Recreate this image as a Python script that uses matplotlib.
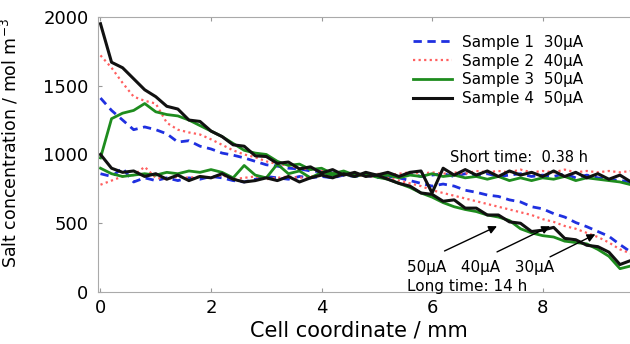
import numpy as np
import matplotlib
matplotlib.use("Agg")
import matplotlib.pyplot as plt

plt.rcParams['font.family'] = ['DejaVu Sans']

# cell coordinate grid (mm)
x = np.round(np.arange(0, 9.61, 0.2), 2)

# long time (14 h) profiles
s1_long = [1410, 1320, 1250, 1180, 1200, 1180, 1150, 1090, 1100, 1060, 1040, 1010, 995, 975, 950, 925,
           915, 900, 895, 880, 875, 865, 860, 855, 850, 845, 840, 830, 810, 790, 770, 785, 770, 740, 725, 705,
           695, 670, 655, 620, 605, 570, 545, 505, 475, 440, 405, 345, 290]
s2_long = [1720, 1630, 1520, 1420, 1390, 1370, 1230, 1180, 1160, 1145, 1110, 1070, 1030, 1000, 980, 950,
           930, 920, 900, 890, 880, 865, 860, 850, 840, 840, 830, 810, 790, 770, 740, 720, 700, 680, 660, 640,
           620, 600, 580, 560, 530, 510, 480, 460, 430, 400, 360, 310, 280]
s3_long = [975, 1260, 1300, 1320, 1370, 1310, 1290, 1280, 1250, 1210, 1170, 1130, 1080, 1030, 1010, 1000,
           950, 920, 930, 890, 900, 860, 880, 850, 860, 835, 820, 790, 760, 720, 690, 650, 620, 600, 585, 560,
           545, 520, 460, 430, 410, 400, 370, 360, 350, 310, 260, 170, 190]
s4_long = [1950, 1670, 1630, 1550, 1470, 1420, 1350, 1330, 1250, 1240, 1170, 1130, 1070, 1060, 990, 985,
           935, 945, 895, 910, 865, 890, 850, 870, 840, 850, 820, 790, 770, 720, 710, 660, 670, 610, 610, 560,
           560, 510, 500, 440, 450, 470, 390, 380, 340, 330, 290, 200, 230]

# short time (0.38 h) profiles
s1_short = [860, 840, 900, 800, 830, 810, 830, 810, 830, 820, 840, 830, 810, 800, 820, 840,
            830, 820, 840, 830, 840, 830, 850, 840, 850, 830, 850, 840, 860, 840, 850, 860, 840, 860, 850, 860,
            840, 850, 860, 840, 850, 840, 860, 830, 850, 830, 820, 810, 800]
s2_short = [780, 810, 840, 850, 910, 830, 820, 840, 830, 840, 830, 850, 820, 830, 840, 820,
            830, 840, 830, 840, 850, 840, 850, 860, 850, 860, 850, 860, 870, 860, 870, 860, 870, 860, 880, 870,
            880, 870, 890, 870, 880, 870, 890, 870, 880, 870, 880, 870, 880]
s3_short = [900, 860, 840, 850, 860, 850, 870, 860, 880, 870, 890, 870, 830, 920, 850, 830,
            930, 860, 880, 830, 870, 850, 860, 840, 860, 840, 850, 830, 850, 840, 860, 840, 850, 830, 840, 820,
            840, 810, 830, 810, 830, 820, 840, 810, 830, 820, 810, 800, 780]
s4_short = [1000, 900, 870, 880, 840, 860, 820, 850, 810, 840, 830, 860, 820, 800, 810, 830,
            810, 840, 800, 830, 850, 830, 860, 840, 870, 850, 870, 840, 870, 880, 720, 900, 850, 890, 850, 880,
            840, 880, 850, 870, 840, 880, 840, 870, 830, 860, 820, 850, 800]

labels = ['Sample 1  30\u03bcA', 'Sample 2  40\u03bcA', 'Sample 3  50\u03bcA', 'Sample 4  50\u03bcA']
colors = ['#1f30e0', '#ff6060', '#1e8c1e', '#111111']
styles = [(0, (3, 2)), (0, (1, 1.5)), '-', '-']
widths = [2.0, 1.6, 2.0, 2.2]

fig = plt.figure(figsize=(6.3, 3.44), dpi=100)
ax = fig.add_axes([0.156, 0.151, 0.85, 0.80])

longs = [s1_long, s2_long, s3_long, s4_long]
shorts = [s1_short, s2_short, s3_short, s4_short]
for i in range(4):
    ax.plot(x, longs[i], color=colors[i], ls=styles[i], lw=widths[i], label=labels[i])
    ax.plot(x, shorts[i], color=colors[i], ls=styles[i], lw=widths[i])

ax.set_xlim(-0.04, 9.65)
ax.set_ylim(0, 2000)
ax.set_xticks([0, 2, 4, 6, 8])
ax.set_yticks([0, 500, 1000, 1500, 2000])
ax.tick_params(direction='in', top=True, right=True, labelsize=13, color='#999999', length=3)
ax.tick_params(axis='y', pad=7)
ax.tick_params(axis='x', pad=5)
for s in ax.spines.values():
    s.set_color('#aaaaaa')
ax.set_xlabel('Cell coordinate / mm', fontsize=15)
ax.xaxis.set_label_coords(0.486, -0.105)
ax.set_ylabel('Salt concentration / mol m$^{-3}$', fontsize=12.5)
ax.yaxis.set_label_coords(-0.146, 0.54)

ax.legend(loc='upper right', bbox_to_anchor=(0.931, 0.985), frameon=False, fontsize=11,
          handlelength=2.55, labelspacing=0.25, handletextpad=0.65)

ax.text(6.33, 975, 'Short time:  0.38 h', fontsize=10.5, va='center')
ax.text(5.55, 182, '50\u03bcA   40\u03bcA   30\u03bcA', fontsize=11, va='center')
ax.text(5.55, 44, 'Long time: 14 h', fontsize=11, va='center')

arrows = [((6.18, 290), (7.22, 487)), ((7.13, 283), (8.18, 487)), ((8.09, 247), (9.0, 429))]
for start, end in arrows:
    ax.annotate('', xy=end, xytext=start,
                arrowprops=dict(arrowstyle='-|>', color='black', lw=1, mutation_scale=12))

fig.savefig('out.png', dpi=100)
